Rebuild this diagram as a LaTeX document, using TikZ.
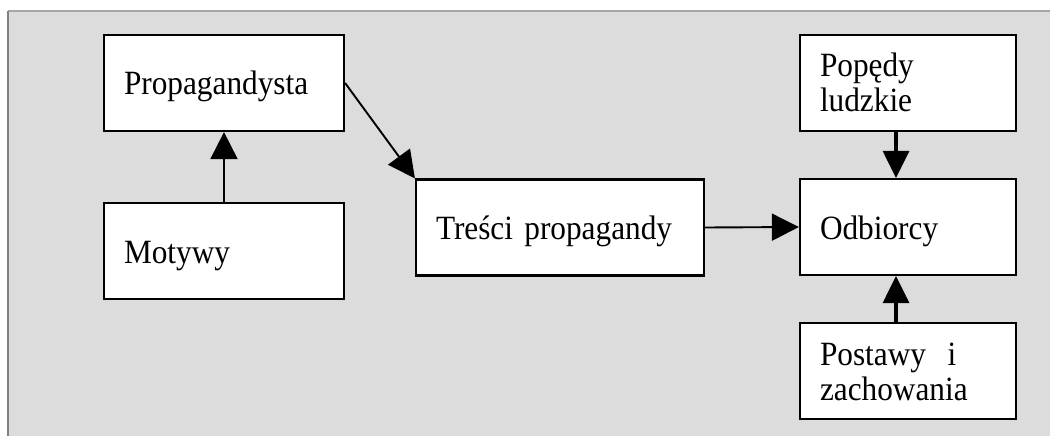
\documentclass[tikz,border=0pt]{standalone}
\usepackage{fontspec}
\setmainfont[FakeStretch=0.92]{Liberation Serif}
\usetikzlibrary{arrows.meta}
\definecolor{bggray}{RGB}{220,220,220}
\definecolor{topline}{RGB}{166,166,166}
\definecolor{leftline}{RGB}{128,128,128}
\newcommand\onestrut{\rule[-8pt]{0pt}{40pt}}
\newcommand\topstrut{\rule{0pt}{31pt}}
\newcommand\botstrut{\rule[-8pt]{0pt}{8pt}}
\begin{document}
\begin{tikzpicture}[x=1pt,y=-1pt,
  box/.style={draw=black, line width=2.2pt, fill=white, rectangle,
    inner xsep=20pt, inner ysep=0pt, minimum height=96pt,
    align=left, font=\fontsize{34}{35}\selectfont},
  wide240/.style={text width=200pt},
  wide288/.style={text width=248pt},
  wide216/.style={text width=176pt},
  thinarrow/.style={line width=1.9pt, -{Triangle[length=27pt,width=27pt]}},
  thickarrow/.style={line width=3.2pt, -{Triangle[length=27pt,width=26pt]}}
]
\useasboundingbox (0,0) rectangle (1050,436);
\fill[bggray] (8,11) rectangle (1050,436);
\draw[topline, line width=1.2pt] (8,11) -- (1050,11);
\draw[leftline, line width=2pt] (8,11) -- (8,436);

\node[box, wide240] (prop) at (224,83) {\onestrut Propagandysta};
\node[box, wide240] (mot) at (224,251) {\onestrut Motywy};
\node[box, wide288] (tresc) at (560,227.5) {\onestrut Treści propagandy};
\node[box, wide216] (odb) at (908,227) {\onestrut Odbiorcy};
\node[box, wide216] (pop) at (908,83) {\topstrut Popędy\\ludzkie\botstrut};
\node[box, wide216] (post) at (908,371) {\topstrut Postawy\hspace{0.3em} i\\zachowania\botstrut};

\draw[thinarrow] (mot.north) -- (prop.south);
\draw[thinarrow] (prop.east) -- (tresc.north west);
\draw[thinarrow] (tresc.east) -- (odb.west);
\draw[thickarrow] ([xshift=-12pt]pop.south) -- ([xshift=-12pt]odb.north);
\draw[thickarrow] ([xshift=-12pt]post.north) -- ([xshift=-12pt]odb.south);
\end{tikzpicture}
\end{document}
